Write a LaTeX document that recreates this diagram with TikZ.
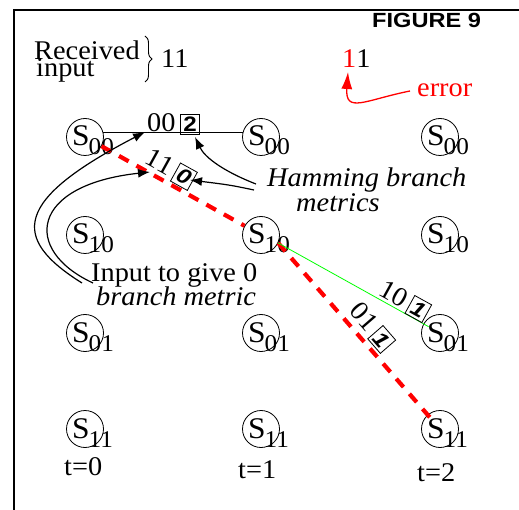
\documentclass[tikz,border=0pt]{standalone}
\usepackage{fontspec}
\setmainfont{Liberation Serif}[FakeStretch=1.05]
\setsansfont{Liberation Sans}[FakeStretch=1.15]
\usetikzlibrary{arrows.meta,decorations.pathreplacing,calc}
\newcommand\mfont{\fontsize{27}{30}\selectfont}
\newcommand\sfnt{\fontsize{30}{30}\selectfont}
\newcommand\subf{\fontsize{24}{24}\selectfont}
\newcommand\boxnum[1]{{\setlength\fboxsep{2.5pt}\setlength\fboxrule{0.8pt}\fbox{\sffamily\bfseries\fontsize{21}{21}\selectfont #1}}}
\newcommand\St[4]{%
  \node[st] (#1) at (#2,#3) {};
  \node[font=\sfnt, inner sep=0pt, anchor=base] (#1s) at (#2-4,#3+9) {S};
  \node[font=\subf, inner sep=0pt, anchor=base west] (#1t) at (#2+3.5,#3+18) {#4};}
\tikzset{
  st/.style={circle, draw, line width=0.8pt, minimum size=37pt, inner sep=0pt},
  txt/.style={font=\mfont, inner sep=0pt, anchor=base west},
  lbl/.style={font=\mfont, inner sep=0pt},
  arr/.style={line width=1.2pt, -{Latex[length=12pt,width=9pt]}},
  reddash/.style={red, line width=4.2pt, dash pattern=on 11pt off 9pt},
}
\begin{document}
\begin{tikzpicture}[x=1pt,y=-1pt]
\useasboundingbox (0,0) rectangle (519,510);
\draw[line width=1.4pt] (14,510) -- (14,10) -- (519,10);
% states
\St{a1}{85}{137}{00}
\St{a2}{85}{235}{10}
\St{a3}{85}{333}{01}
\St{a4}{85}{429}{11}
\St{b1}{261}{137}{00}
\St{b2}{261}{235}{10}
\St{b3}{261}{333}{01}
\St{b4}{261}{429}{11}
\St{c1}{440}{137}{00}
\St{c2}{440}{235}{10}
\St{c3}{440}{333}{01}
\St{c4}{440}{429}{11}
% time labels
\node[txt] (t0) at (64,475) {t=0};
\node[txt] (t1) at (238,478) {t=1};
\node[txt] (t2) at (417,481) {t=2};
% header
\node[txt] (rec) at (34,60) {Received};
\node[txt] (inp) at (36,77) {input};
\draw[line width=0.9pt, decorate, decoration={brace, amplitude=7pt}] (145,36) -- (145,82);
\node[txt] (rx) at (161,68) {11};
\node[font=\sffamily\bfseries\fontsize{20.5}{20}\selectfont, inner sep=0pt, anchor=base west] (fig) at (372,28) {FIGURE 9};
\node[txt] (rx2) at (342,68) {\textcolor{red}{1}1};
\node[txt, red] (err) at (417,97) {error};
\coordinate (er0) at (410,91);
\coordinate (er1) at (348,72);
\draw[red, line width=1.3pt, -{Latex[length=17pt,width=11pt]}] (er0) .. controls (365,100) and (345,114) .. (er1);
% branches
\draw[line width=0.8pt] (a1.15) -- (b1.165);
\node[txt] (l00) at (147,132) {00\,\boxnum{2}};
\draw[reddash] (a1) -- (b2);
\draw[reddash, shorten >=12pt] (b2.-25) -- (c4.center);
\draw[green, line width=0.8pt, shorten >=13pt] (b2.-25) -- (c3.center);
\node[lbl, rotate=-29] (l11) at (170,169) {11\,\boxnum{\itshape 0}};
\node[lbl, rotate=-29] (l10) at (404,301) {10\,\boxnum{\itshape 1}};
\node[lbl, rotate=-49] (l01) at (371,327) {01\,\boxnum{\itshape 1}};
% annotations
\node[txt, font=\mfont\itshape] (hb) at (267,187) {Hamming branch};
\node[txt, font=\mfont\itshape] (hm) at (296,212) {metrics};
\coordinate (hm1) at (256,184);
\coordinate (hm2) at (254,190);
\coordinate (tip2) at (195,137);
\coordinate (tip0) at (190,180);
\draw[arr] (hm1) .. controls (225,172) and (205,158) .. (tip2);
\draw[arr] (hm2) .. controls (230,185) .. (tip0);
\node[txt] (inp0) at (91,282) {Input to give 0};
\node[txt, font=\mfont\itshape] (bm) at (96,306) {branch metric};
\coordinate (in1) at (82,283);
\coordinate (in2) at (93,283);
\coordinate (tipA) at (145,132);
\coordinate (tipB) at (150,172);
\draw[arr] (in1) .. controls (10,238) and (14,200) .. (tipA);
\draw[arr] (in2) .. controls (22,250) and (30,185) .. (tipB);
\end{tikzpicture}
\end{document}
